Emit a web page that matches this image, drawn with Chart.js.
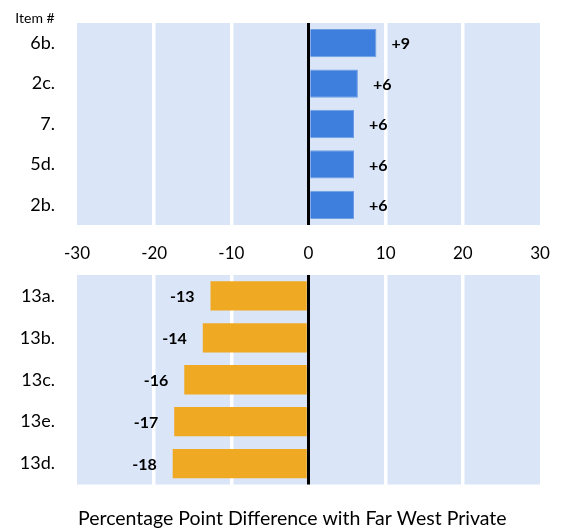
<!DOCTYPE html>
<html>
<head>
<meta charset="utf-8">
<script src="https://cdn.jsdelivr.net/npm/chart.js@4.4.1/dist/chart.umd.min.js"></script>
<style>
  html, body { margin: 0; padding: 0; background: #fff; }
  #wrap { position: relative; width: 566px; height: 529px; }
  canvas { position: absolute; left: 0; }
  #topChart { top: 0; }
  #bottomChart { top: 265px; }
</style>
</head>
<body>
<div id="wrap">
  <canvas id="topChart" width="566" height="265"></canvas>
  <canvas id="bottomChart" width="566" height="264"></canvas>
</div>
<script>
// Data
const topCategories = ['6b.', '2c.', '7.', '5d.', '2b.'];
const topValues = [8.8, 6.4, 5.9, 5.9, 5.9];
const topLabels = ['+9', '+6', '+6', '+6', '+6'];

const bottomCategories = ['13a.', '13b.', '13c.', '13e.', '13d.'];
const bottomValues = [-12.7, -13.7, -16.1, -17.4, -17.6];
const bottomLabels = ['-13', '-14', '-16', '-17', '-18'];

const xTickValues = [-30, -20, -10, 0, 10, 20, 30];

const FONT = 'Lato, "Open Sans", sans-serif';
const plotBg = '#dae5f7';

// fill the plot area with light blue
const plotBackground = {
    id: 'plotBackground',
    beforeDraw(chart) {
        const a = chart.chartArea;
        const ctx = chart.ctx;
        ctx.save();
        ctx.fillStyle = plotBg;
        ctx.fillRect(a.left, a.top, a.right - a.left, a.bottom - a.top);
        ctx.restore();
    }
};

// black line at zero, drawn over the bars
const zeroLine = {
    id: 'zeroLine',
    afterDatasetsDraw(chart) {
        const a = chart.chartArea;
        const x = chart.scales.x.getPixelForValue(0);
        const ctx = chart.ctx;
        ctx.save();
        ctx.strokeStyle = '#000';
        ctx.lineWidth = 3;
        ctx.beginPath();
        ctx.moveTo(x, a.top);
        ctx.lineTo(x, a.bottom);
        ctx.stroke();
        ctx.restore();
    }
};

// value labels next to bar ends
const valueLabels = {
    id: 'valueLabels',
    afterDatasetsDraw(chart) {
        const ctx = chart.ctx;
        const texts = chart.options.plugins.valueLabels.texts;
        const meta = chart.getDatasetMeta(0);
        ctx.save();
        ctx.font = 'bold 16px ' + FONT;
        ctx.fillStyle = '#000';
        ctx.textBaseline = 'middle';
        meta.data.forEach((bar, i) => {
            const v = chart.data.datasets[0].data[i];
            if (v >= 0) {
                ctx.textAlign = 'left';
                ctx.fillText(texts[i], bar.x + 15, bar.y + 1);
            } else {
                ctx.textAlign = 'right';
                ctx.fillText(texts[i], bar.x - 16, bar.y + 1);
            }
        });
        ctx.restore();
    }
};

// loose text: "Item #" and the bottom caption
const extraText = {
    id: 'extraText',
    afterDraw(chart) {
        const items = chart.options.plugins.extraText.items || [];
        const ctx = chart.ctx;
        ctx.save();
        ctx.fillStyle = '#000';
        ctx.textBaseline = 'middle';
        items.forEach(t => {
            ctx.font = t.size + 'px ' + FONT;
            ctx.textAlign = t.align;
            ctx.fillText(t.text, t.x, t.y);
        });
        ctx.restore();
    }
};

function gridColor(ctx) {
    const v = ctx.tick && ctx.tick.value;
    if (v === 0 || v === -30 || v === 30) return 'rgba(0,0,0,0)';
    return '#ffffff';
}

function makeChart(id, cats, vals, labels, color, border, opts) {
    return new Chart(document.getElementById(id), {
        type: 'bar',
        data: {
            labels: cats,
            datasets: [{
                data: vals,
                backgroundColor: color,
                borderColor: border,
                borderWidth: border ? 1 : 0,
                borderSkipped: 'start',
                categoryPercentage: 1,
                barPercentage: 0.7
            }]
        },
        options: {
            indexAxis: 'y',
            responsive: false,
            animation: false,
            layout: { padding: { top: opts.padTop, right: 26, left: 0, bottom: 0 } },
            scales: {
                x: {
                    min: -30,
                    max: 30,
                    afterBuildTicks: s => { s.ticks = xTickValues.map(v => ({ value: v })); },
                    grid: { color: gridColor, lineWidth: 3.5, drawTicks: false },
                    border: { display: false },
                    ticks: {
                        display: opts.showTicks,
                        color: '#000',
                        padding: 18,
                        font: { family: FONT, size: 17 }
                    },
                    afterFit: s => {
                        s.height = opts.xHeight;
                        s.paddingLeft = 0;
                        s.paddingRight = 0;
                    }
                },
                y: {
                    grid: { display: false, drawTicks: false },
                    border: { display: false },
                    ticks: {
                        color: '#000',
                        padding: 22,
                        font: { family: FONT, size: 18 }
                    },
                    afterFit: s => {
                        s.width = 77;
                        s.paddingTop = 0;
                        s.paddingBottom = 0;
                    }
                }
            },
            plugins: {
                legend: { display: false },
                tooltip: { enabled: false },
                valueLabels: { texts: labels },
                extraText: { items: opts.extra }
            }
        },
        plugins: [plotBackground, zeroLine, valueLabels, extraText]
    });
}

makeChart('topChart', topCategories, topValues, topLabels, '#3e7edc', '#6f9ee6', {
    padTop: 23,
    showTicks: true,
    xHeight: 40,
    extra: [{ text: 'Item #', x: 35, y: 18, size: 14, align: 'center' }]
});

makeChart('bottomChart', bottomCategories, bottomValues, bottomLabels, '#f0a922', null, {
    padTop: 10,
    showTicks: false,
    xHeight: 44.5,
    extra: [{ text: 'Percentage Point Difference with Far West Private', x: 78, y: 254, size: 19.5, align: 'left' }]
});
</script>
</body>
</html>
